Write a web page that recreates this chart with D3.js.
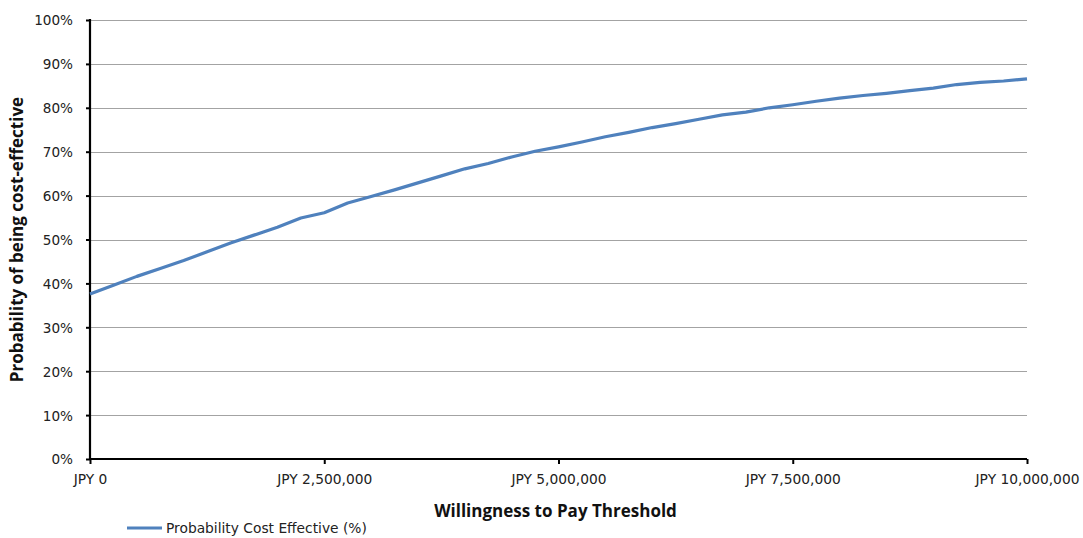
<!DOCTYPE html>
<html>
<head>
<meta charset="utf-8">
<script src="https://cdn.jsdelivr.net/npm/d3@7"></script>
<style>
  html, body { margin: 0; padding: 0; background: #fff; }
  svg { display: block; }
</style>
</head>
<body>
<svg id="chart" width="1083" height="538"></svg>
<script>
// Willingness-to-pay thresholds (JPY), one point every 250,000
const thresholds = d3.range(0, 10000001, 250000);

// Probability of being cost-effective (%) at each threshold
const probability = [
  37.6, 39.6, 41.6, 43.4, 45.2, 47.2, 49.2, 51.0, 52.8, 54.9,
  56.1, 58.3, 59.8, 61.3, 62.9, 64.5, 66.1, 67.3, 68.8, 70.1,
  71.1, 72.2, 73.4, 74.4, 75.5, 76.4, 77.4, 78.4, 79.0, 80.0,
  80.7, 81.5, 82.2, 82.8, 83.3, 83.9, 84.5, 85.3, 85.8, 86.1,
  86.6
];

const xTicks = [0, 2500000, 5000000, 7500000, 10000000];
const yTicks = [0, 10, 20, 30, 40, 50, 60, 70, 80, 90, 100];

const seriesName = "Probability Cost Effective (%)";
const xTitle = "Willingness to Pay Threshold";
const yTitle = "Probability of being cost-effective";

const data = thresholds.map((t, i) => ({ x: t, y: probability[i] }));

const svg = d3.select("#chart");
const plot = { left: 90, right: 1027, top: 20, bottom: 459 };

const x = d3.scaleLinear().domain([0, 10000000]).range([plot.left, plot.right]);
const y = d3.scaleLinear().domain([0, 100]).range([plot.bottom, plot.top]);

const tickFont = "'DejaVu Sans', Verdana, sans-serif";
const titleFont = "'Open Sans', Lato, sans-serif";
const fmt = d3.format(",");

// Horizontal gridlines
svg.append("g")
  .selectAll("line")
  .data(yTicks.filter(d => d > 0))
  .join("line")
  .attr("x1", plot.left).attr("x2", plot.right)
  .attr("y1", d => Math.round(y(d)) + 0.5).attr("y2", d => Math.round(y(d)) + 0.5)
  .attr("stroke", "#a3a3a3")
  .attr("stroke-width", 1.2);

// Y axis
const yAxis = svg.append("g")
  .attr("transform", `translate(${plot.left},0)`)
  .call(d3.axisLeft(y).tickValues(yTicks).tickFormat(d => d + "%").tickSize(4).tickPadding(13));
yAxis.select(".domain").attr("stroke", "#000").attr("stroke-width", 2.2)
  .attr("d", `M0,${plot.top - 1}V${plot.bottom + 1}`);
yAxis.selectAll(".tick line").attr("stroke", "#000").attr("stroke-width", 2);
yAxis.selectAll(".tick text")
  .attr("font-family", tickFont).attr("font-size", 13.6).attr("fill", "#222")
  .attr("dy", "0.36em");

// X axis
const xAxis = svg.append("g")
  .attr("transform", `translate(0,${plot.bottom})`)
  .call(d3.axisBottom(x).tickValues(xTicks).tickFormat(d => "JPY " + fmt(d)).tickSize(5).tickPadding(10));
xAxis.select(".domain").attr("stroke", "#000").attr("stroke-width", 2.2)
  .attr("d", `M${plot.left - 1},0H${plot.right}`);
xAxis.selectAll(".tick line").attr("stroke", "#000").attr("stroke-width", 2);
xAxis.selectAll(".tick text")
  .attr("font-family", tickFont).attr("font-size", 13.8).attr("fill", "#222");

// Series line
const line = d3.line().x(d => x(d.x)).y(d => y(d.y));
svg.append("path")
  .datum(data)
  .attr("d", line)
  .attr("fill", "none")
  .attr("stroke", "#4f81bd")
  .attr("stroke-width", 3.2)
  .attr("stroke-linejoin", "round");

// Axis titles
svg.append("text")
  .attr("x", (plot.left + plot.right) / 2 - 3)
  .attr("y", 517)
  .attr("text-anchor", "middle")
  .attr("font-family", titleFont)
  .attr("font-weight", "bold")
  .attr("font-size", 17)
  .attr("fill", "#111")
  .text(xTitle);

svg.append("text")
  .attr("transform", `translate(23,${(plot.top + plot.bottom) / 2}) rotate(-90)`)
  .attr("text-anchor", "middle")
  .attr("font-family", titleFont)
  .attr("font-weight", "bold")
  .attr("font-size", 17)
  .attr("fill", "#111")
  .text(yTitle);

// Legend
const legend = svg.append("g").attr("transform", "translate(127,528)");
legend.append("line")
  .attr("x1", 0).attr("x2", 35).attr("y1", 0).attr("y2", 0)
  .attr("stroke", "#4f81bd").attr("stroke-width", 3.2);
legend.append("text")
  .attr("x", 39).attr("y", 0).attr("dy", "0.36em")
  .attr("font-family", tickFont).attr("font-size", 13.8).attr("fill", "#222")
  .text(seriesName);
</script>
</body>
</html>
